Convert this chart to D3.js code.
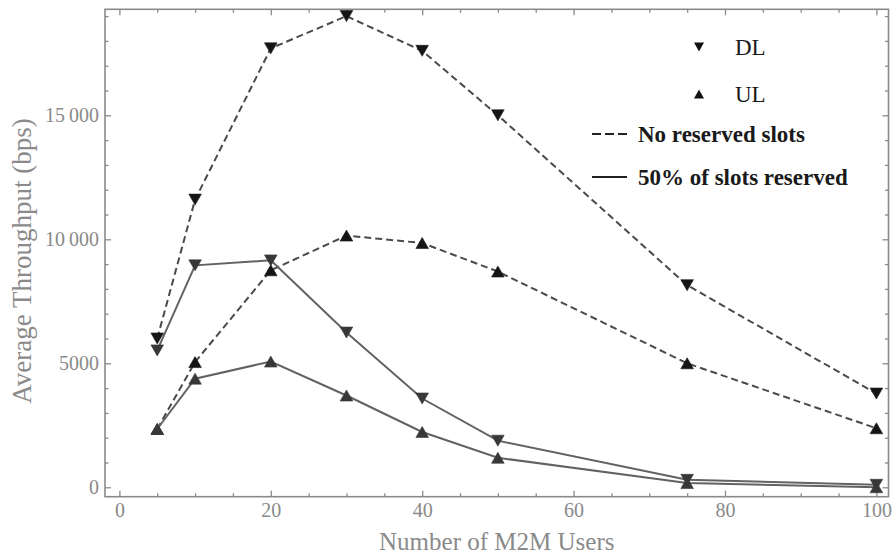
<!DOCTYPE html>
<html>
<head>
<meta charset="utf-8">
<script src="https://cdn.jsdelivr.net/npm/d3@7/dist/d3.min.js"></script>
<style>
  html, body { margin: 0; padding: 0; background: #fff; }
  svg { display: block; }
  .tick text { font-family: "Liberation Serif", serif; font-size: 20px; fill: #8a8a8a; }
  .tick line { stroke: #8a8a8a; stroke-width: 1.3; }
</style>
</head>
<body>
<script>
// Number of M2M users on the x axis
const users = [5, 10, 20, 30, 40, 50, 75, 100];

// Average throughput (bps)
const dlNoReserved = [6000, 11600, 17700, 19000, 17600, 15000, 8150, 3780];
const ulNoReserved = [2350, 5050, 8750, 10150, 9850, 8700, 5000, 2380];
const dl50Reserved = [5520, 8950, 9150, 6240, 3580, 1880, 300, 100];
const ul50Reserved = [2350, 4380, 5070, 3700, 2230, 1190, 170, 0];

// Axis ticks
const xMajorTicks = [0, 20, 40, 60, 80, 100];
const xMinorTicks = [5, 10, 15, 25, 30, 35, 45, 50, 55, 65, 70, 75, 85, 90, 95];
const yMajorTicks = [0, 5000, 10000, 15000];
const yMinorTicks = [1000, 2000, 3000, 4000, 6000, 7000, 8000, 9000, 11000, 12000, 13000, 14000, 16000, 17000, 18000, 19000];

const xTitle = "Number of M2M Users";
const yTitle = "Average Throughput (bps)";

const legendMarkers = ["DL", "UL"];
const legendLines = ["No reserved slots", "50% of slots reserved"];

const W = 894, H = 556;
const frame = { left: 105, right: 888.5, top: 9.3, bottom: 496.7 };

const svg = d3.select("body").append("svg")
  .attr("width", W).attr("height", H);

const x = d3.scaleLinear().domain([-1.9, 101.6]).range([frame.left, frame.right]);
const y = d3.scaleLinear().domain([-380, 19275]).range([frame.bottom, frame.top]);

// thousands separated by a thin space for 5-digit numbers, like "15 000"
const fmtY = v => v >= 10000 ? d3.format(",")(v).replace(/,/g, "\u2009") : String(v);

function axisGroup(axis, tx, ty) {
  const g = svg.append("g").attr("transform", `translate(${tx},${ty})`).call(axis);
  g.select(".domain").remove();
  return g;
}

// bottom & left: labelled majors + minors, all pointing inward
axisGroup(d3.axisBottom(x).tickValues(xMajorTicks).tickSize(-6).tickPadding(6), 0, frame.bottom);
axisGroup(d3.axisBottom(x).tickValues(xMinorTicks).tickSize(-3.5).tickFormat(""), 0, frame.bottom);
axisGroup(d3.axisLeft(y).tickValues(yMajorTicks).tickSize(-6).tickPadding(6).tickFormat(fmtY), frame.left, 0);
axisGroup(d3.axisLeft(y).tickValues(yMinorTicks).tickSize(-3.5).tickFormat(""), frame.left, 0);
// top & right mirror ticks without labels
axisGroup(d3.axisTop(x).tickValues(xMajorTicks).tickSize(-6).tickFormat(""), 0, frame.top);
axisGroup(d3.axisTop(x).tickValues(xMinorTicks).tickSize(-3.5).tickFormat(""), 0, frame.top);
axisGroup(d3.axisRight(y).tickValues(yMajorTicks).tickSize(-6).tickFormat(""), frame.right, 0);
axisGroup(d3.axisRight(y).tickValues(yMinorTicks).tickSize(-3.5).tickFormat(""), frame.right, 0);

// frame
svg.append("rect")
  .attr("x", frame.left).attr("y", frame.top)
  .attr("width", frame.right - frame.left).attr("height", frame.bottom - frame.top)
  .attr("fill", "none").attr("stroke", "#8a8a8a").attr("stroke-width", 1.6);

// axis titles
svg.append("text")
  .attr("x", (frame.left + frame.right) / 2).attr("y", 550)
  .attr("text-anchor", "middle")
  .attr("font-family", "Liberation Serif, serif").attr("font-size", 25)
  .attr("fill", "#8a8a8a").text(xTitle);

svg.append("text")
  .attr("transform", `translate(31,${(frame.top + frame.bottom) / 2 + 8}) rotate(-90)`)
  .attr("text-anchor", "middle")
  .attr("font-family", "Liberation Serif, serif").attr("font-size", 27)
  .attr("fill", "#8a8a8a").text(yTitle);

// triangle marker centred on its bounding box
const TW = 12.6, TH = 11;
function tri(cx, cy, down, w = TW, h = TH) {
  if (down) return `M${cx - w / 2},${cy - h / 2}L${cx + w / 2},${cy - h / 2}L${cx},${cy + h / 2}Z`;
  return `M${cx - w / 2},${cy + h / 2}L${cx + w / 2},${cy + h / 2}L${cx},${cy - h / 2}Z`;
}

const series = [
  { values: dlNoReserved, down: true,  dash: "7,4", line: "#4a4a4a", marker: "#151515" },
  { values: ulNoReserved, down: false, dash: "7,4", line: "#4a4a4a", marker: "#151515" },
  { values: dl50Reserved, down: true,  dash: null,  line: "#626262", marker: "#383838" },
  { values: ul50Reserved, down: false, dash: null,  line: "#626262", marker: "#383838" }
];

const line = d3.line().x((d, i) => x(users[i])).y(d => y(d));

const plot = svg.append("g");
series.forEach(s => {
  plot.append("path")
    .attr("d", line(s.values))
    .attr("fill", "none")
    .attr("stroke", s.line)
    .attr("stroke-width", 2)
    .attr("stroke-dasharray", s.dash);
});
series.forEach(s => {
  plot.selectAll(null).data(s.values).enter().append("path")
    .attr("d", (d, i) => tri(x(users[i]), y(d), s.down))
    .attr("fill", s.marker)
    .attr("stroke", s.marker).attr("stroke-width", 0.6).attr("stroke-linejoin", "round");
});

// legend
const lg = svg.append("g");
legendMarkers.forEach((name, i) => {
  const cy = 47 + i * 47;
  lg.append("path").attr("d", tri(699, cy, i === 0, 10, 9)).attr("fill", "#111");
  lg.append("text").attr("x", 735).attr("y", cy + 8)
    .attr("font-family", "Liberation Serif, serif").attr("font-size", 23)
    .attr("fill", "#1a1a1a").text(name);
});
legendLines.forEach((name, i) => {
  const cy = 134 + i * 43;
  lg.append("line").attr("x1", 592).attr("x2", 627).attr("y1", cy).attr("y2", cy)
    .attr("stroke", "#222").attr("stroke-width", 2.2)
    .attr("stroke-dasharray", i === 0 ? "9,4" : null);
  lg.append("text").attr("x", 638).attr("y", cy + 8)
    .attr("font-family", "Liberation Serif, serif").attr("font-size", 23)
    .attr("font-weight", "bold").attr("fill", "#1a1a1a").text(name);
});
</script>
</body>
</html>
